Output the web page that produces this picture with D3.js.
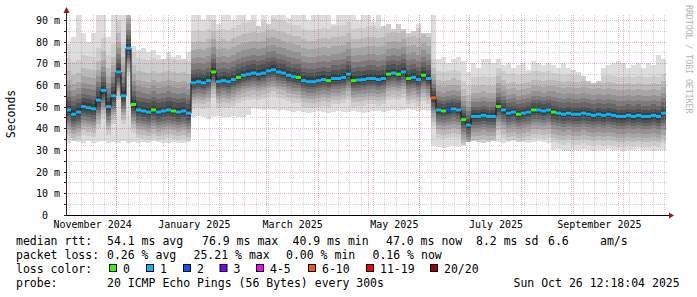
<!DOCTYPE html>
<html>
<head>
<meta charset="utf-8">
<script src="https://cdn.jsdelivr.net/npm/d3@7"></script>
<style>
body { margin: 0; background: #fff; }
svg { display: block; font-family: "DejaVu Sans Mono", monospace; }
</style>
</head>
<body>
<div id="chart"></div>
<script>
// one value every 3 days, starting 2024-11-01
const startDay = '2024-11-01';
const endDay = '2025-10-27';
const stepDays = 3;

const medianRtt = [
	48.5, 46.5, 47.5, 50, 49.5, 49, 53, 57.5, 50, 55,
	66, 55, 77, 51, 48.5, 48, 47.5, 48.5, 47.5, 48,
	48.5, 48, 47.5, 48, 47, 61, 61.5, 61, 62, 66,
	61.5, 62, 61.5, 62.5, 63.5, 64.5, 65, 65.5, 65, 65.5,
	66.5, 67, 66, 65.5, 64.5, 63.8, 63.5, 62, 61.5, 61.5,
	62, 62.5, 62, 63, 63, 63.5, 65, 62, 62.3, 62.5,
	63, 63, 62.5, 63, 65, 65.5, 65, 66, 63, 63.5,
	62.5, 64.5, 63, 54, 48.5, 48, 48.5, 49, 48.5, 44,
	41.5, 45.5, 45.5, 46, 45.5, 45.5, 50, 48.5, 47, 47.5,
	46.5, 47, 47.5, 48.5, 48.5, 48, 48.5, 47.5, 47, 46.5,
	47, 46.5, 46.5, 47, 46.5, 46, 46.5, 46, 46.5, 46,
	45.5, 45.5, 46, 45.5, 46, 45.5, 45.5, 46, 45.5, 47
];

// index into lossColors for each median value
const lossIdx = [
	1, 1, 1, 1, 1, 1, 1, 1, 1, 1,
	1, 1, 1, 0, 1, 1, 1, 0, 1, 1,
	1, 0, 1, 1, 1, 1, 1, 1, 1, 0,
	1, 1, 1, 1, 0, 1, 1, 1, 1, 1,
	1, 1, 1, 1, 1, 1, 0, 1, 1, 1,
	1, 1, 0, 1, 1, 1, 1, 0, 1, 1,
	1, 1, 1, 1, 0, 1, 0, 1, 0, 1,
	1, 0, 1, 5, 1, 0, 2, 1, 1, 0,
	1, 1, 1, 1, 1, 1, 0, 1, 1, 1,
	0, 1, 1, 0, 1, 1, 1, 0, 1, 1,
	1, 1, 1, 1, 1, 1, 1, 1, 1, 1,
	1, 1, 1, 1, 1, 1, 1, 1, 1, 1
];

const smokeLo = [
	33, 34, 33.5, 33, 34, 33, 33.5, 34, 33, 33.5,
	33, 34, 33, 33.5, 33, 33.5, 33, 34, 33.5, 33,
	33, 33.5, 33, 33, 33.5, 45, 45.5, 45, 44.5, 45,
	45.5, 45, 45, 45.5, 45, 45, 46, 49.5, 49, 48.5,
	49, 48.5, 48, 48.5, 48, 47.5, 48, 47.5, 47, 47.5,
	48, 47.5, 47, 47.5, 48, 47.5, 47.5, 48, 47.5, 47,
	47.5, 48, 48, 47.5, 48, 48.5, 48, 48.5, 49, 48.5,
	48, 48.5, 48, 32, 31.5, 31, 31.5, 32, 31.5, 32,
	33.5, 34, 33.5, 33, 33.5, 34, 33.5, 33, 33.5, 34,
	33.5, 33.5, 33, 33.5, 34, 33.5, 33, 30, 30.5, 30,
	29.5, 30, 30, 30.5, 30, 29.5, 30, 30, 30.5, 30,
	30, 29.5, 30, 30, 30.5, 30, 30, 29.5, 30, 30
];

const smokeHi = [
	79, 82, 93, 84, 80, 84, 93, 93, 82, 93,
	93, 93, 93, 78, 76, 77, 75, 76, 74, 72,
	75, 73, 74, 72, 75, 93, 93, 90, 93, 93,
	88, 93, 93, 90, 93, 93, 90, 93, 87, 93,
	88, 93, 93, 93, 91, 93, 93, 93, 90, 93,
	93, 93, 93, 88, 93, 93, 93, 93, 90, 93,
	93, 89, 93, 87, 88, 86, 88, 86, 84, 85,
	88, 84, 84, 93, 72, 73, 70, 72, 73, 71,
	66, 70, 68, 72, 72, 70, 72, 69, 70, 68,
	69, 70, 67, 71, 70, 69, 70, 69, 68, 70,
	68, 67, 66, 64, 62, 61, 62, 68, 69, 70,
	71, 70, 68, 69, 70, 68, 70, 69, 74, 72
];

// inner smoke layers: distance below / above the median (ms), per period, outer to inner
const periodEnd = [25, 73, 97, 120];
const smokeDown = [
	[13, 11, 9, 7.5, 6, 4.5, 3, 1.5],
	[12, 10, 8, 6.5, 5, 3.5, 2.5, 1.2],
	[13, 11, 9, 7, 5.5, 4, 2.5, 1.2],
	[14, 12, 10, 8, 6, 4.5, 3, 1.5]
];
const smokeUp = [
	[24, 18, 14, 11, 8.5, 6, 4, 2],
	[24, 19, 15, 11.5, 8.5, 6, 4, 2],
	[18, 14, 11, 8.5, 6.5, 4.5, 3, 1.5],
	[18, 15, 12, 9.5, 7, 5, 3, 1.5]
];

const yTickValues = [0, 10, 20, 30, 40, 50, 60, 70, 80, 90];
const yTickLabels = ['0', '10 m', '20 m', '30 m', '40 m', '50 m', '60 m', '70 m', '80 m', '90 m'];
const xLabelMonths = ['2024-11-01', '2025-01-01', '2025-03-01', '2025-05-01', '2025-07-01', '2025-09-01'];
const xLabels = ['November 2024', 'January 2025', 'March 2025', 'May 2025', 'July 2025', 'September 2025'];

const rttStats = ['54.1 ms avg', '76.9 ms max', '40.9 ms min', '47.0 ms now', '8.2 ms sd', '6.6', 'am/s'];
const lossStats = ['0.26 % avg', '25.21 % max', '0.00 % min', '0.16 % now'];
const lossLabels = ['0', '1', '2', '3', '4-5', '6-10', '11-19', '20/20'];
const lossColors = ['#26ff00', '#00b8ff', '#0059ff', '#7e00ff', '#ff00ff', '#ff5500', '#ff0000', '#a00000'];
const probeText = '20 ICMP Echo Pings (56 Bytes) every 300s';
const stampText = 'Sun Oct 26 12:18:04 2025';

const W = 697, H = 297;
const svg = d3.select('#chart').append('svg').attr('width', W).attr('height', H);

const start = d3.utcParse('%Y-%m-%d')(startDay);
const end = d3.utcParse('%Y-%m-%d')(endDay);
const x = d3.scaleUtc().domain([start, end]).range([66, 666]);
const y = d3.scaleLinear().domain([0, 92.3]).range([215, 15]);

const pts = medianRtt.map((m, i) => {
	const p = periodEnd.findIndex((e) => i < e);
	return { date: d3.utcDay.offset(start, i * stepDays), med: m, lo: smokeLo[i], hi: smokeHi[i], p: p, loss: lossIdx[i] };
});
const ext = pts.concat([Object.assign({}, pts[pts.length - 1], { date: end })]);

svg.append('clipPath').attr('id', 'plot')
	.append('rect').attr('x', 66).attr('y', 15).attr('width', 600).attr('height', 200);

const g = svg.append('g').attr('clip-path', 'url(#plot)');

// smoke
const area = (lo, hi) => d3.area().curve(d3.curveStepAfter)
	.x((d) => x(d.date)).y0((d) => y(lo(d))).y1((d) => y(hi(d)));

g.append('path')
	.attr('d', area((d) => d.lo, (d) => d.hi)(ext))
	.attr('fill', '#dddddd').attr('shape-rendering', 'crispEdges');

const layerColors = ['#cdcdcd', '#bababa', '#a6a6a6', '#929292', '#7c7c7c', '#666666', '#505050', '#3a3a3a'];
layerColors.forEach((c, k) => {
	const a = area(
		(d) => Math.max(d.lo, d.med - smokeDown[d.p][k]),
		(d) => Math.min(d.hi, d.med + smokeUp[d.p][k])
	);
	g.append('path').attr('d', a(ext)).attr('fill', c).attr('shape-rendering', 'crispEdges');
});

// grid
const minorCol = 'rgba(140,140,140,0.35)';
const majorCol = 'rgba(190,60,60,0.38)';
const grid = svg.append('g').attr('stroke-dasharray', '1,1').attr('stroke-width', 1);
d3.utcSunday.range(start, end).forEach((d) => {
	const px = Math.round(x(d)) + 0.5;
	grid.append('line').attr('x1', px).attr('x2', px).attr('y1', 15).attr('y2', 215).attr('stroke', minorCol);
});
d3.range(5, 95, 10).forEach((v) => {
	const py = Math.round(y(v)) + 0.5;
	grid.append('line').attr('x1', 66).attr('x2', 668).attr('y1', py).attr('y2', py).attr('stroke', minorCol);
});
d3.utcMonth.range(d3.utcDay.offset(start, 1), end).forEach((d) => {
	const px = Math.round(x(d)) + 0.5;
	grid.append('line').attr('x1', px).attr('x2', px).attr('y1', 15).attr('y2', 215).attr('stroke', majorCol);
});
yTickValues.slice(1).forEach((v) => {
	const py = Math.round(y(v)) + 0.5;
	grid.append('line').attr('x1', 66).attr('x2', 668).attr('y1', py).attr('y2', py).attr('stroke', majorCol);
});

// median line
const medLine = d3.line().curve(d3.curveStepAfter).x((d) => x(d.date)).y((d) => y(d.med));
g.append('path').attr('d', medLine(ext)).attr('fill', 'none').attr('stroke', '#111').attr('stroke-width', 1);
g.selectAll('line.med').data(pts).enter().append('line').attr('class', 'med')
	.attr('x1', (d) => x(d.date))
	.attr('x2', (d, i) => x(ext[i + 1].date))
	.attr('y1', (d) => y(d.med)).attr('y2', (d) => y(d.med))
	.attr('stroke', (d) => lossColors[d.loss]).attr('stroke-width', 3);

// axes
svg.append('line').attr('x1', 66).attr('x2', 670).attr('y1', 215.5).attr('y2', 215.5).attr('stroke', '#000');
svg.append('line').attr('x1', 66.5).attr('x2', 66.5).attr('y1', 216).attr('y2', 11).attr('stroke', '#3a1c1c');
svg.append('path').attr('d', 'M669,212.5L674,215.5L669,218.5Z').attr('fill', '#7f1f1f');
svg.append('path').attr('d', 'M63.5,13L66.5,7L69.5,13Z').attr('fill', '#7f1f1f');
d3.range(0, 95, 5).forEach((v) => {
	const py = Math.round(y(v)) + 0.5;
	svg.append('line').attr('x1', 64).attr('x2', 66).attr('y1', py).attr('y2', py).attr('stroke', '#3a1c1c');
});

// tick labels
yTickValues.forEach((v, i) => {
	svg.append('text').attr('x', v === 0 ? 48 : 60).attr('y', Math.round(y(v)) + 4)
		.attr('text-anchor', 'end').attr('font-size', '10px').attr('fill', '#000')
		.text(yTickLabels[i]);
});
xLabelMonths.forEach((m, i) => {
	const d = d3.utcDay.offset(d3.utcParse('%Y-%m-%d')(m), 16);
	svg.append('text').attr('x', x(d)).attr('y', 227.5)
		.attr('text-anchor', 'middle').attr('font-size', '10px').attr('fill', '#000')
		.text(xLabels[i]);
});

svg.append('text').attr('transform', 'translate(15,114) rotate(-90)')
	.attr('text-anchor', 'middle').attr('font-size', '11.5px').text('Seconds');
svg.append('text').attr('transform', 'translate(685.5,5) rotate(90)')
	.attr('font-size', '8.2px').attr('fill', '#b4b4b4').text('RRDTOOL / TOBI OETIKER');

// legend
const leg = svg.append('g').attr('font-size', '11.5px').attr('fill', '#000').attr('xml:space', 'preserve');
const row = [244.5, 258.5, 272.5, 286.5];
leg.append('text').attr('x', 16).attr('y', row[0]).text('median rtt:');
[107, 202, 292.5, 386, 476, 548, 600].forEach((px, i) => {
	leg.append('text').attr('x', px).attr('y', row[0]).text(rttStats[i]);
});
leg.append('text').attr('x', 16).attr('y', row[1]).text('packet loss:');
[107, 193.5, 286, 372.5].forEach((px, i) => {
	leg.append('text').attr('x', px).attr('y', row[1]).text(lossStats[i]);
});
leg.append('text').attr('x', 16).attr('y', row[2]).text('loss color:');
[109, 146, 183, 219.5, 256, 308, 366, 430].forEach((px, i) => {
	leg.append('rect').attr('x', px + 0.5).attr('y', 264.5).attr('width', 7).attr('height', 7)
		.attr('fill', lossColors[i]).attr('stroke', '#000');
	leg.append('text').attr('x', px + 14).attr('y', row[2]).text(lossLabels[i]);
});
leg.append('text').attr('x', 16).attr('y', row[3]).text('probe:');
leg.append('text').attr('x', 107).attr('y', row[3]).text(probeText);
leg.append('text').attr('x', 513.5).attr('y', row[3]).text(stampText);
</script>
</body>
</html>
